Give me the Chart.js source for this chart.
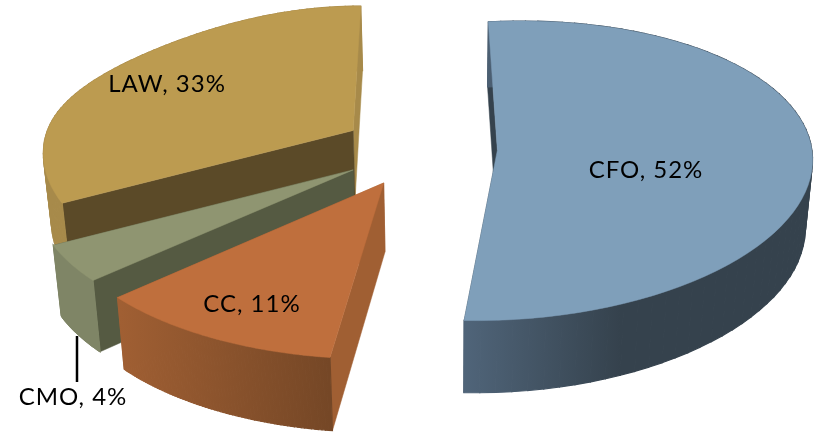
<!DOCTYPE html>
<html>
<head>
<meta charset="utf-8">
<style>
    html, body { margin: 0; padding: 0; background: #fff; }
    canvas { display: block; }
</style>
<script src="https://cdn.jsdelivr.net/npm/chart.js@4/dist/chart.umd.min.js"></script>
</head>
<body>
<canvas id="pieChart" width="820" height="432"></canvas>
<script>
// Datos del gráfico
const categories = ['CFO', 'CC', 'CMO', 'LAW'];
const shares = [52, 11, 4, 33];

// Separación de cada porción (px, con radio 100)
const slicePull = [24, 26, 25, 24];

// Colores: cara superior, pared del borde inicial / final y pared exterior
const topColors = ['#7f9fba', '#bf6f3d', '#8f9571', '#bc9b50'];
const startWallColors = ['#35424d', '#a05f33', '#555a42', '#5b4a28'];
const endWallColors = ['#35424d', '#a05f33', '#555a42', '#a78a4a'];
const outerWallStops = [
    [[462, '#50657a'], [620, '#35424d'], [813, '#35424d']],
    [[120, '#a05f33'], [330, '#754726']],
    [[53, '#7f8566'], [100, '#7f8566']],
    [[43, '#a78a4a'], [70, '#a78a4a']]
];

// Ajustes finos de perspectiva por porción
const sliceShift = [0, 0, -4, -5];
const sliceScaleX = [0.987, 1, 0.98, 0.99];
const sliceScaleY = [1, 0.97, 0.96, 1];
const sliceTilt = [-0.05, 0, 0, 0];
const rimDent = [0, 0, 0, 0.05];

// Etiquetas: [x centro, y centro]
const labelSpots = [[646, 170], [252, 304], [73, 397], [167, 84]];

// Cámara: pasa del plano de la tarta a la pantalla
const cam = { cx: 422, cy: 148, a: 314, b: 146, p: 0.138, vx: 450, shrink: 0.98 };

function project(X, Y) {
    const w = 1 - cam.p * Y;
    return [cam.cx + cam.a * X / w, cam.cy + cam.b * Y / w];
}

// Punto de la cara inferior para un punto de la cara superior
function drop(pt) {
    return [cam.vx + (pt[0] - cam.vx) * cam.shrink, pt[1] + 65 + 0.024 * (pt[1] - 21)];
}

function fillPoly(ctx, pts, style, seam) {
    ctx.beginPath();
    pts.forEach((pt, i) => i ? ctx.lineTo(pt[0], pt[1]) : ctx.moveTo(pt[0], pt[1]));
    ctx.closePath();
    ctx.fillStyle = style;
    ctx.fill();
    ctx.strokeStyle = style;
    ctx.lineWidth = seam || 0.5;
    ctx.stroke();
}

// La geometría sale de los arcos que calcula Chart.js
function sliceOutline(arc, i) {
    const R = arc.outerRadius;
    const mid = (arc.startAngle + arc.endAngle) / 2;
    const ox = Math.cos(mid) * arc.options.offset / R;
    const oy = Math.sin(mid) * arc.options.offset / R;
    const apex = project(ox, oy);
    const place = pt => [
        apex[0] + (pt[0] - apex[0]) * sliceScaleX[i] + sliceShift[i],
        apex[1] + (pt[1] - apex[1]) * sliceScaleY[i] + (pt[0] - apex[0]) * sliceTilt[i]
    ];
    const rim = [];
    const steps = 72;
    for (let k = 0; k <= steps; k++) {
        const t = arc.startAngle + (arc.endAngle - arc.startAngle) * k / steps;
        // El borde superior izquierdo es algo más plano
        const dent = Math.sin(t) < 0 ? rimDent[i] * Math.pow(Math.sin(2 * t), 2) : 0;
        const r = 1 - dent;
        rim.push(place(project(ox + r * Math.cos(t), oy + r * Math.sin(t))));
    }
    return { apex: place(apex), rim: rim };
}

const pie3d = {
    id: 'pie3d',
    beforeDatasetDraw(chart, args) {
        const ctx = chart.ctx;
        const arcs = chart.getDatasetMeta(args.index).data;
        // De atrás hacia delante
        [3, 2, 1, 0].forEach(i => {
            const s = sliceOutline(arcs[i], i);
            const first = s.rim[0];
            const last = s.rim[s.rim.length - 1];
            fillPoly(ctx, [s.apex, last, drop(last), drop(s.apex)], endWallColors[i]);
            fillPoly(ctx, [s.apex, first, drop(first), drop(s.apex)], startWallColors[i]);

            const stops = outerWallStops[i];
            const x0 = stops[0][0];
            const x1 = stops[stops.length - 1][0];
            const grad = ctx.createLinearGradient(x0, 0, x1, 0);
            stops.forEach(st => grad.addColorStop((st[0] - x0) / (x1 - x0), st[1]));
            for (let k = 0; k < s.rim.length - 1; k++) {
                const p0 = s.rim[k];
                const p1 = s.rim[k + 1];
                fillPoly(ctx, [p0, p1, drop(p1), drop(p0)], grad, 1.2);
            }

            fillPoly(ctx, [s.apex].concat(s.rim), topColors[i]);
        });
        return false;
    },
    afterDatasetsDraw(chart) {
        const ctx = chart.ctx;
        // Línea guía de CMO
        ctx.strokeStyle = '#000';
        ctx.lineWidth = 2.5;
        ctx.beginPath();
        ctx.moveTo(77, 336);
        ctx.lineTo(77, 382);
        ctx.stroke();

        ctx.fillStyle = '#000';
        ctx.font = '24px Lato';
        ctx.letterSpacing = '1px';
        ctx.textAlign = 'center';
        ctx.textBaseline = 'middle';
        categories.forEach((name, i) => {
            ctx.fillText(name + ', ' + shares[i] + '%', labelSpots[i][0], labelSpots[i][1]);
        });
    }
};

new Chart(document.getElementById('pieChart'), {
    type: 'pie',
    data: {
        labels: categories,
        datasets: [{
            data: shares,
            backgroundColor: topColors,
            offset: slicePull,
            borderWidth: 0
        }]
    },
    options: {
        responsive: false,
        animation: false,
        radius: 100,
        events: [],
        plugins: { legend: { display: false }, tooltip: { enabled: false } }
    },
    plugins: [pie3d]
});
</script>
</body>
</html>
